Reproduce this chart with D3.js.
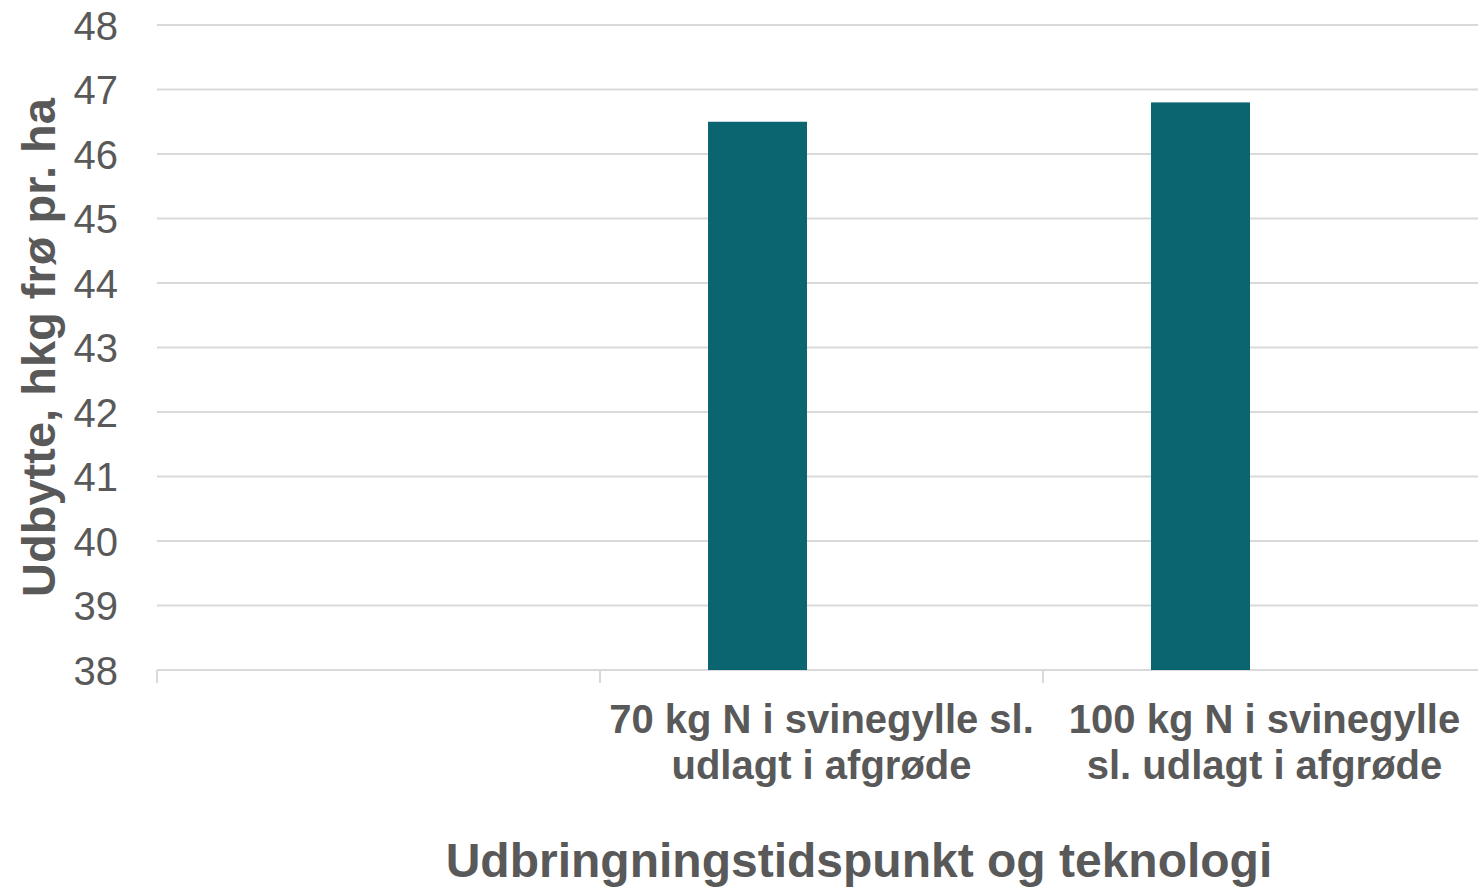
<!DOCTYPE html>
<html>
<head>
<meta charset="utf-8">
<script src="https://cdn.jsdelivr.net/npm/d3@7"></script>
<style>
  html, body { margin: 0; padding: 0; background: #fff; }
  svg { display: block; font-family: "Liberation Sans", Arial, sans-serif; }
</style>
</head>
<body>
<svg id="chart" width="1478" height="888"></svg>
<script>
// ---- data ----
const categories = ["", "70 kg N i svinegylle sl.|udlagt i afgrøde", "100 kg N i svinegylle|sl. udlagt i afgrøde"];
const seriesNames = ["Serie 1", "Serie 2"];
const series1 = [null, 46.5, 46.8];
const series2 = [null, null, null];
const yTicks = [38, 39, 40, 41, 42, 43, 44, 45, 46, 47, 48];
const yTitle = "Udbytte, hkg frø pr. ha";
const xTitle = "Udbringningstidspunkt og teknologi";

(function () {
// ---- layout ----
const svg = d3.select("#chart");
const mLeft = 157, mRight = 1486, mTop = 25, mBottom = 670;
const textColor = "#595959", gridColor = "#d9d9d9", barColor = "#0a6570";

const x0 = d3.scaleBand().domain(d3.range(categories.length)).range([mLeft, mRight]).padding(0);
const x1 = d3.scaleBand().domain(seriesNames).range([0, x0.bandwidth()])
  .paddingInner(0.2266).paddingOuter(0.844);
const y = d3.scaleLinear().domain([38, 48]).range([mBottom, mTop]);

// gridlines
svg.append("g").selectAll("line").data(yTicks).join("line")
  .attr("x1", mLeft).attr("x2", mRight)
  .attr("y1", d => y(d)).attr("y2", d => y(d))
  .attr("stroke", gridColor).attr("stroke-width", 2);

// y-axis labels
const yAxis = d3.axisLeft(y).tickValues(yTicks).tickSize(0).tickPadding(0).tickFormat(d3.format("d"));
const gy = svg.append("g").attr("transform", `translate(118,0)`).call(yAxis);
gy.select(".domain").remove();
gy.selectAll("text").attr("fill", textColor).style("font-size", "40px")
  .style("font-family", '"Liberation Sans", Arial, sans-serif').attr("dy", "0.35em");

// x-axis baseline with ticks at band boundaries
const gx = svg.append("g");
gx.append("line").attr("x1", mLeft).attr("x2", mRight).attr("y1", mBottom).attr("y2", mBottom)
  .attr("stroke", gridColor).attr("stroke-width", 2);
const boundaries = d3.range(categories.length + 1).map(i => i < categories.length ? x0(i) : x0(i - 1) + x0.bandwidth());
gx.selectAll(".tk").data(boundaries).join("line").attr("class", "tk")
  .attr("x1", d => d).attr("x2", d => d).attr("y1", mBottom).attr("y2", mBottom + 13)
  .attr("stroke", gridColor).attr("stroke-width", 2);

// bars
const seriesData = [series1, series2];
categories.forEach((c, i) => {
  seriesNames.forEach((s, j) => {
    const v = seriesData[j][i];
    if (v == null) return;
    svg.append("rect")
      .attr("x", x0(i) + x1(s))
      .attr("width", x1.bandwidth())
      .attr("y", y(v))
      .attr("height", y(38) - y(v))
      .attr("fill", barColor);
  });
});

// category labels
categories.forEach((c, i) => {
  if (!c) return;
  const t = svg.append("text")
    .attr("text-anchor", "middle")
    .attr("fill", textColor)
    .style("font-size", "40px").style("font-weight", "bold");
  c.split("|").forEach((line, k) => {
    t.append("tspan").attr("x", x0(i) + x0.bandwidth() / 2).attr("y", 733 + k * 46).text(line);
  });
});

// axis titles
svg.append("text")
  .attr("transform", `translate(55,${(mTop + mBottom) / 2}) rotate(-90)`)
  .attr("text-anchor", "middle").attr("fill", textColor)
  .style("font-size", "47px").style("font-weight", "bold")
  .text(yTitle);

svg.append("text")
  .attr("x", 859).attr("y", 877)
  .attr("text-anchor", "middle").attr("fill", textColor)
  .style("font-size", "48px").style("font-weight", "bold")
  .text(xTitle);
})();
</script>
</body>
</html>
